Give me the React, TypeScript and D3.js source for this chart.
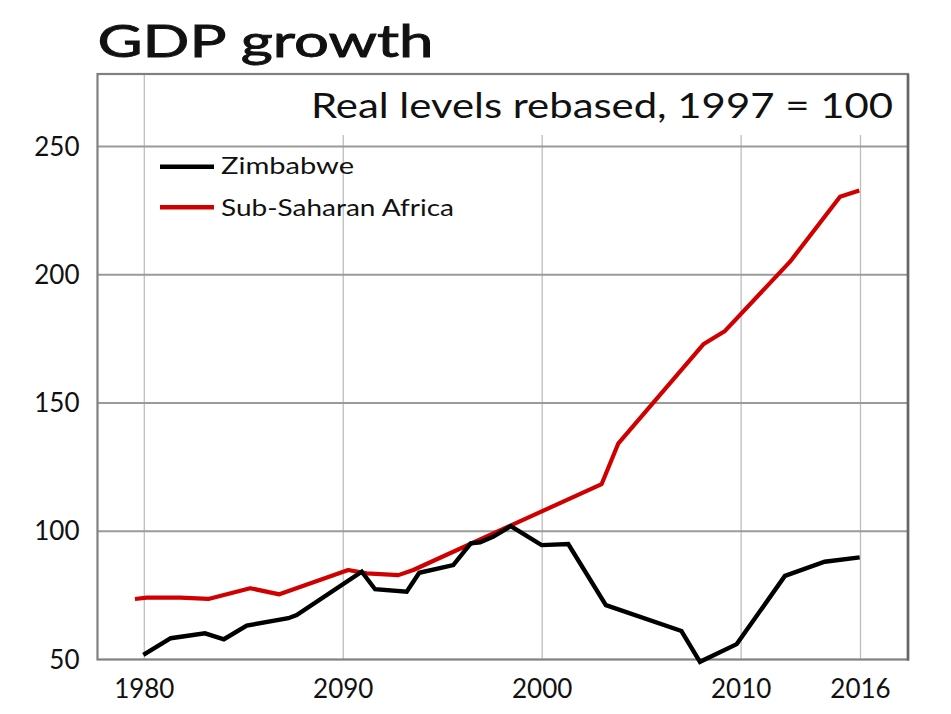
import * as d3 from "d3";
import React from "react";

const zimYears = [1979.95, 1981.33, 1983.05, 1984.0, 1985.15, 1987.24, 1987.66, 1990.93, 1991.6, 1993.19, 1993.82, 1995.53, 1996.41, 1996.88, 1997.55, 1998.42, 1999.97, 2001.31, 2003.2, 2007.0, 2007.93, 2009.78, 2012.2, 2014.2, 2015.96];
const zimValues = [51.8, 58.3, 60.2, 57.9, 63.2, 66.1, 67.3, 84.2, 77.4, 76.4, 83.8, 86.8, 95.3, 95.7, 97.9, 102.0, 94.6, 95.0, 71.2, 61.1, 49.1, 56.0, 82.6, 88.1, 89.8];

// Sub-Saharan Africa
const ssaYears = [1979.53, 1980.12, 1981.8, 1983.22, 1985.32, 1986.79, 1990.25, 1991.18, 1992.77, 1993.52, 2002.99, 2003.83, 2008.1, 2009.19, 2012.46, 2014.97, 2015.94];
const ssaValues = [73.6, 74.1, 74.1, 73.6, 77.8, 75.4, 84.9, 83.6, 82.9, 84.9, 118.4, 134.3, 172.9, 178.1, 205.1, 230.4, 232.8];

const xTickYears = [1980, 1990, 2000, 2010, 2016];
const xTickLabels = ["1980", "2090", "2000", "2010", "2016"];
const yTicks = [50, 100, 150, 200, 250];

const seriesNames = ["Zimbabwe", "Sub-Saharan Africa"];
const seriesColors = ["#000000", "#d10000"];

const App: React.FC = () => {
  const width = 951;
  const height = 714;
  const frameLeft = 97.5;
  const frameRight = 908;
  const frameTop = 74;
  const frameBottom = 659.5;
  const font = "Lato, 'Open Sans', sans-serif";

  const x = d3.scaleLinear().domain([1980, 2016]).range([144.3, 860.5]);
  const y = d3.scaleLinear().domain([50, 250]).range([frameBottom, 146.5]);

  const line = d3.line<[number, number]>()
    .x(d => x(d[0]))
    .y(d => y(d[1]));

  const zim = zimYears.map((yr, i) => [yr, zimValues[i]] as [number, number]);
  const ssa = ssaYears.map((yr, i) => [yr, ssaValues[i]] as [number, number]);

  return (
    <svg width={width} height={height} style={{ position: "absolute", left: 0, top: 0, background: "#fff" }}>
      <rect x={0} y={0} width={width} height={height} fill="#fff" />

      {/* vertical gridlines */}
      {xTickYears.map(t => (
        <line key={"vx" + t} x1={x(t)} x2={x(t)} y1={frameTop} y2={frameBottom} stroke="#bdbdbd" strokeWidth={1.3} />
      ))}

      {/* subtitle sits on a white patch that hides the gridlines */}
      <rect x={300} y={frameTop + 1} width={frameRight - 302} height={60} fill="#fff" />
      <text x={893} y={118.3} textAnchor="end" fontFamily={font} fontSize={35} textLength={582} lengthAdjust="spacingAndGlyphs" fill="#111">
        Real levels rebased, 1997 = 100
      </text>

      {/* horizontal gridlines */}
      {yTicks.slice(1).map(t => (
        <line key={"hy" + t} x1={frameLeft} x2={frameRight} y1={y(t)} y2={y(t)} stroke="#9a9a9a" strokeWidth={2} />
      ))}

      {/* frame */}
      <rect x={frameLeft} y={frameTop} width={frameRight - frameLeft} height={frameBottom - frameTop} fill="none" stroke="#808080" strokeWidth={2.2} />
      <line x1={frameRight} x2={frameRight} y1={frameTop} y2={frameBottom + 1} stroke="#666" strokeWidth={2.6} />

      {/* series */}
      <path d={line(ssa) ?? ""} fill="none" stroke={seriesColors[1]} strokeWidth={4.2} strokeLinejoin="round" />
      <path d={line(zim) ?? ""} fill="none" stroke={seriesColors[0]} strokeWidth={4.4} strokeLinejoin="miter" />

      {/* y labels */}
      {yTicks.map(t => (
        <text key={"yl" + t} x={79.5} y={y(t) + 9} textAnchor="end" fontFamily={font} fontSize={26} fill="#111">
          {t}
        </text>
      ))}

      {/* x labels */}
      {xTickYears.map((t, i) => (
        <text key={"xl" + t} x={x(t)} y={698} textAnchor="middle" fontFamily={font} fontSize={26} fill="#111">
          {xTickLabels[i]}
        </text>
      ))}

      {/* legend */}
      {seriesNames.map((name, i) => (
        <g key={name}>
          <line x1={160} x2={214} y1={166.7 + i * 40.5} y2={166.7 + i * 40.5} stroke={seriesColors[i]} strokeWidth={4.5} />
          <text x={221} y={174 + i * 42} fontFamily={font} fontSize={24} textLength={i === 0 ? 133 : 233} lengthAdjust="spacingAndGlyphs" fill="#111">
            {name}
          </text>
        </g>
      ))}

      {/* title, slightly heavier than the regular face */}
      <text x={97.5} y={57.3} fontFamily={font} fontSize={45} textLength={336} lengthAdjust="spacingAndGlyphs" fill="#111" stroke="#111" strokeWidth={0.9}>
        GDP growth
      </text>
    </svg>
  );
};

export default App;
